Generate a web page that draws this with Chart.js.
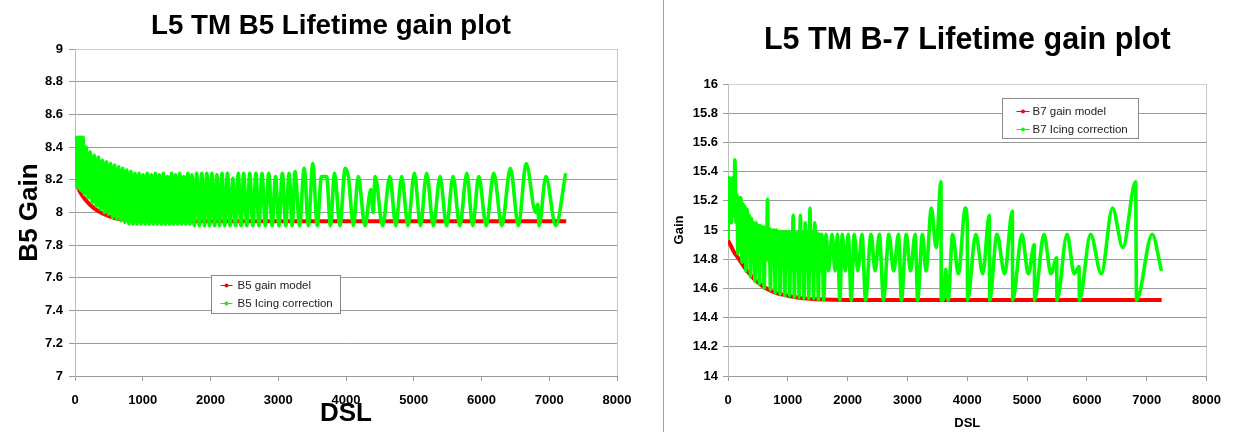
<!DOCTYPE html>
<html><head><meta charset="utf-8">
<script src="https://cdn.jsdelivr.net/npm/chart.js@4"></script>
<style>
html,body{margin:0;padding:0;background:#fff;width:1233px;height:432px;overflow:hidden}
#wrapL{position:absolute;left:0;top:0;width:662px;height:432px}
#wrapR{position:absolute;left:664px;top:0;width:569px;height:432px}
#divider{position:absolute;left:663px;top:0;width:1px;height:432px;background:#f08080}
</style></head>
<body>
<div id="wrapL"><canvas id="cL" width="662" height="432"></canvas></div>
<div id="divider"></div>
<div id="wrapR"><canvas id="cR" width="569" height="432"></canvas></div>
<script>
// ---------- data ----------
const xTickValues = [0,1000,2000,3000,4000,5000,6000,7000,8000];
const xTickLabels = ['0','1000','2000','3000','4000','5000','6000','7000','8000'];
const b5TickValues = [7,7.2,7.4,7.6,7.8,8,8.2,8.4,8.6,8.8,9];
const b5TickLabels = ['7','7.2','7.4','7.6','7.8','8','8.2','8.4','8.6','8.8','9'];
const b7TickValues = [14,14.2,14.4,14.6,14.8,15,15.2,15.4,15.6,15.8,16];
const b7TickLabels = ['14','14.2','14.4','14.6','14.8','15','15.2','15.4','15.6','15.8','16'];

const b5SeriesNames = ['B5 gain model','B5 Icing correction'];
const b7SeriesNames = ['B7 gain model','B7 Icing correction'];

const b5Model = [[0,8.20],[70,8.13],[150,8.08],[270,8.03],[400,7.995],[600,7.965],[800,7.955],[1000,7.95],[1500,7.947],[2000,7.947],[3000,7.947],[4000,7.947],[5000,7.947],[6000,7.947],[7000,7.947],[7250,7.947]];

const b5Icing = [[0,8.20],[8,8.46],[22,8.16],[36,8.46],[50,8.15],[64,8.46],[78,8.14],[92,8.46],[106,8.13],[120,8.46],[135,8.11],
[165,8.40],[195,8.09],[225,8.37],[255,8.06],[285,8.35],[315,8.04],[345,8.34],[375,8.02],[405,8.32],[435,8.00],[465,8.31],[495,7.99],[525,8.30],[555,7.97],[585,8.29],[615,7.96],[645,8.28],[675,7.95],[705,8.27],[735,7.94],[765,8.26],[795,7.93],[825,8.25],[855,7.93],[885,8.24],[915,7.93],[945,8.24],[975,7.93],[1005,8.23],[1035,7.93],[1065,8.24],[1095,7.93],[1125,8.23],[1155,7.93],[1185,8.24],[1215,7.93],[1245,8.23],[1275,7.93],[1305,8.24],[1335,7.93],[1365,8.22],[1395,7.93],[1425,8.24],[1455,7.93],[1485,8.23],[1515,7.93],[1545,8.24],[1575,7.93],[1605,8.22],[1635,7.93],[1665,8.24],[1695,7.93],
[1725,8.23],[1760,7.92],[1795,8.24],[1835,7.92],[1870,8.24],[1910,7.92],[1945,8.24],[1985,7.92],[2020,8.24],[2060,7.92],[2095,8.23],[2135,7.92],[2170,8.24],[2210,7.92],[2250,8.24],[2290,7.92],[2330,8.21],[2370,7.92],[2410,8.24],[2450,7.92],[2490,8.24],[2535,7.92],[2580,8.24],[2625,7.92],[2670,8.24],[2715,7.92],[2760,8.24],[2810,7.92],[2860,8.24],[2910,7.92],[2960,8.22],[3010,7.92],[3060,8.24],[3110,7.92],[3160,8.24],[3205,7.92],[3248,8.25],[3315,7.92],[3382,8.27],[3445,7.92],[3510,8.30],[3575,7.92],[3638,8.22],[3714,8.22],[3770,7.92],[3831,8.24],[3910,7.92],[3988,8.27],[4035,8.22],[4110,7.92],[4181,8.22],[4280,7.92],[4367,8.14],[4400,8.0],[4431,8.22],[4540,7.92],[4647,8.22],[4735,7.92],[4822,8.22],[4915,7.92],[5009,8.24],[5100,7.92],[5190,8.24],[5290,7.92],[5388,8.22],[5485,7.92],[5580,8.22],[5680,7.92],[5784,8.24],[5870,7.92],[5959,8.22],[6070,7.92],[6181,8.24],[6300,7.92],[6426,8.27],[6545,7.92],[6659,8.30],[6800,8.0],[6830,8.05],[6850,7.92],[6950,8.22],[7096,7.92],[7242,8.24]];

const b7Model = [[0,14.93],[50,14.89],[100,14.85],[150,14.82],[200,14.79],[300,14.73],[400,14.68],[500,14.64],[600,14.61],[800,14.57],[1000,14.55],[1200,14.535],[1500,14.525],[2000,14.52],[3000,14.52],[4000,14.52],[5000,14.52],[6000,14.52],[7000,14.52],[7250,14.52]];

const b7Icing = [[0,14.93],[15,15.36],[30,15.05],[45,15.35],[60,15.05],[80,15.36],[100,15.10],[115,15.48],[135,15.05],[150,15.24],[165,14.84],[180,15.22],[200,15.00],[215,15.22],[235,14.78],[250,15.18],[270,14.95],[285,15.16],[300,14.72],[320,15.14],[340,14.92],[355,15.10],[375,14.68],[395,15.08],[415,14.88],[430,15.05],[450,14.65],[470,15.05],[490,14.85],[505,15.03],[525,14.63],[545,15.03],[565,14.83],[585,15.02],[605,14.60],[625,15.02],[645,14.80],[660,15.21],[675,14.79],[690,15.01],[710,14.59],[730,15.0],[750,14.78],[770,15.0],[790,14.57],[810,15.0],[830,14.76],[850,14.99],[870,14.56],[890,14.99],[910,14.75],[930,14.99],[950,14.55],[970,14.99],[990,14.74],[1010,14.99],[1030,14.55],[1050,14.98],[1070,14.73],[1090,15.1],[1110,14.54],[1130,14.98],[1150,14.73],[1170,14.98],[1190,14.54],[1210,15.1],[1230,14.73],[1250,14.98],[1270,14.53],[1290,15.05],[1310,14.72],[1330,14.98],[1350,14.53],[1370,15.15],[1390,14.72],[1410,14.98],[1430,14.53],[1450,15.05],[1470,14.72],[1490,14.98],[1510,14.52],[1530,14.97],[1550,14.72],[1570,14.97],[1600,14.52],[1640,14.97],[1680,14.72],
[1740,14.97],[1790,14.72],[1830,14.97],[1870,14.52],[1910,14.97],[1960,14.72],[2010,14.97],[2060,14.52],[2110,14.97],[2170,14.72],[2240,14.97],[2300,14.52],[2390,14.97],[2460,14.72],[2530,14.97],[2600,14.52],[2690,14.97],[2770,14.72],[2850,14.97],[2900,14.52],[2980,14.97],[3050,14.72],[3130,14.97],[3170,14.52],[3250,14.97],[3310,14.72],[3400,15.15],[3480,14.88],[3560,15.33],[3565,14.52],[3600,14.52],[3640,14.73],[3680,14.52],[3755,14.97],[3850,14.70],[3968,15.15],[4000,15.05],[4005,14.52],[4142,14.97],[4260,14.70],[4367,15.1],[4375,14.52],[4496,14.97],[4625,14.70],[4753,15.13],[4760,14.52],[4914,14.97],[5020,14.70],[5121,14.9],[5125,14.52],[5282,14.97],[5400,14.70],[5494,14.81],[5500,14.52],[5668,14.97],[5790,14.70],[5868,14.75],[5875,14.52],[6061,14.97],[6240,14.70],[6428,15.15],[6600,14.88],[6814,15.33],[6830,14.52],[7091,14.97],[7246,14.72]];

// ---------- helpers ----------
const FONT = '"Liberation Sans", Arial, sans-serif';
const toXY = pts => pts.map(p => ({x: p[0], y: p[1]}));

const insetLegend = {
  id: 'insetLegend',
  afterDraw(chart, args, o) {
    const ctx = chart.ctx, a = chart.chartArea;
    const bx = Math.round(a.left + o.dx) + 0.5, by = Math.round(a.top + o.dy) + 0.5;
    ctx.save();
    ctx.fillStyle = '#fff';
    ctx.fillRect(bx, by, o.w, o.h);
    ctx.strokeStyle = '#8a8a8a'; ctx.lineWidth = 1;
    ctx.strokeRect(bx, by, o.w, o.h);
    ctx.font = o.fontSize + 'px ' + FONT;
    ctx.textBaseline = 'middle'; ctx.textAlign = 'left';
    o.items.forEach((dsIndex, i) => {
      const ds = chart.data.datasets[dsIndex];
      const y = by + o.rows[i];
      ctx.strokeStyle = ds.borderColor; ctx.lineWidth = 1;
      ctx.beginPath(); ctx.moveTo(bx + o.lineX0, y); ctx.lineTo(bx + o.lineX1, y); ctx.stroke();
      ctx.fillStyle = ds.borderColor;
      ctx.beginPath(); ctx.arc(bx + (o.lineX0 + o.lineX1) / 2, y, 2, 0, Math.PI * 2); ctx.fill();
      ctx.fillStyle = '#222';
      ctx.fillText(ds.label, bx + o.textX, y + 0.5);
    });
    ctx.restore();
  }
};

function makeChart(id, cfg) {
  const gridColor = '#9a9a9a';
  return new Chart(document.getElementById(id), {
    type: 'line',
    data: {
      datasets: [
        {label: cfg.names[0], data: toXY(cfg.model), borderColor: '#ff0000', backgroundColor: '#ff0000',
         borderWidth: 4, pointRadius: 0, order: 1, cubicInterpolationMode: 'monotone'},
        {label: cfg.names[1], data: toXY(cfg.icing), borderColor: '#00ff00', backgroundColor: '#00ff00',
         borderWidth: 3.6, pointRadius: 0, order: 0, cubicInterpolationMode: 'monotone'}
      ]
    },
    options: {
      responsive: false, animation: false, parsing: false,
      layout: {padding: {left: 0, right: 0, top: 0, bottom: 0}},
      plugins: {
        legend: {display: false}, tooltip: {enabled: false},
        title: {display: true, text: cfg.title, color: '#000', fullSize: cfg.titleFull,
                font: {family: FONT, size: cfg.titleSize, weight: 'bold', lineHeight: 1.2},
                padding: {top: cfg.titlePadTop, bottom: cfg.titlePadBottom}},
        insetLegend: cfg.legend
      },
      scales: {
        x: {
          type: 'linear', min: 0, max: 8000,
          afterBuildTicks: s => { s.ticks = xTickValues.map(v => ({value: v})); },
          afterFit: s => { s.height = cfg.xHeight; },
          ticks: {callback: (v, i) => xTickLabels[i], color: '#000', padding: cfg.xTickPad, maxRotation: 0,
                  font: {family: FONT, size: 13, weight: 'bold'}},
          grid: {drawOnChartArea: true, drawTicks: true, tickLength: 5, tickColor: gridColor,
                 color: c => (c.tick && c.tick.value === 8000) ? '#c8c8c8' : 'rgba(0,0,0,0)'},
          border: {display: true, color: gridColor, width: 1},
          title: {display: true, text: 'DSL', color: '#000',
                  font: {family: FONT, size: cfg.xTitleSize, weight: 'bold', lineHeight: 1.2},
                  padding: {top: 0, bottom: cfg.xTitlePadBottom}}
        },
        y: {
          type: 'linear', min: cfg.yMin, max: cfg.yMax,
          afterBuildTicks: s => { s.ticks = cfg.yTickValues.map(v => ({value: v})); },
          afterFit: s => { s.width = cfg.yWidth; },
          ticks: {callback: (v, i) => cfg.yTickLabels[i], color: '#000', padding: cfg.yTickPad,
                  font: {family: FONT, size: 13, weight: 'bold'}},
          grid: {drawTicks: true, tickLength: cfg.yTickLen, tickColor: gridColor,
                 color: c => (c.tick && c.tick.value === cfg.yMax) ? '#cfcfcf' : gridColor},
          border: {display: true, color: '#bdbdbd', width: 1},
          title: {display: true, text: cfg.yTitle, color: '#000',
                  font: {family: FONT, size: cfg.yTitleSize, weight: 'bold', lineHeight: 1.2},
                  padding: {top: cfg.yTitlePadTop, bottom: 0}}
        },
        yRightSpace: {
          type: 'linear', position: 'right', display: true, min: 0, max: 1,
          afterFit: s => { s.width = cfg.rightSpace; },
          ticks: {display: false}, grid: {display: false}, border: {display: false}
        }
      }
    },
    plugins: [insetLegend]
  });
}

makeChart('cL', {
  names: b5SeriesNames, model: b5Model, icing: b5Icing,
  title: 'L5 TM B5 Lifetime gain plot', titleSize: 27.7, titleFull: true, titlePadTop: 10, titlePadBottom: 5.8,
  rightSpace: 45, xHeight: 56, xTickPad: 12, xTitleSize: 26, xTitlePadBottom: 3,
  yMin: 7, yMax: 9, yTickValues: b5TickValues, yTickLabels: b5TickLabels, yWidth: 75, yTickPad: 6, yTickLen: 6,
  yTitle: 'B5 Gain', yTitleSize: 26, yTitlePadTop: 14,
  legend: {dx: 136, dy: 226, w: 129, h: 38, rows: [10, 28], lineX0: 9, lineX1: 21, textX: 26, fontSize: 11.5, items: [0, 1]}
});

makeChart('cR', {
  names: b7SeriesNames, model: b7Model, icing: b7Icing,
  title: 'L5 TM B-7 Lifetime gain plot', titleSize: 30.5, titleFull: false, titlePadTop: 22, titlePadBottom: 25.4,
  rightSpace: 19, xHeight: 56, xTickPad: 12, xTitleSize: 13, xTitlePadBottom: 1,
  yMin: 14, yMax: 16, yTickValues: b7TickValues, yTickLabels: b7TickLabels, yWidth: 64, yTickPad: 5, yTickLen: 5,
  yTitle: 'Gain', yTitleSize: 13, yTitlePadTop: 8,
  legend: {dx: 274, dy: 14, w: 136, h: 40, rows: [13, 31], lineX0: 14, lineX1: 27, textX: 30, fontSize: 11.5, items: [0, 1]}
});
</script>
</body></html>
